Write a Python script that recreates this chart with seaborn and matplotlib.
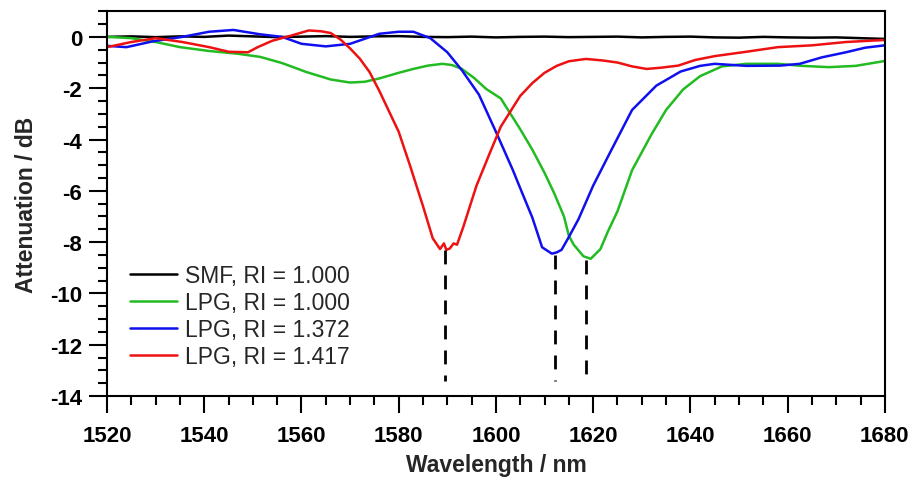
import matplotlib
matplotlib.use("Agg")
import matplotlib.pyplot as plt
import numpy as np
import pandas as pd
import seaborn as sns
from matplotlib.ticker import MultipleLocator

# --- data ---
labels = ["SMF, RI = 1.000", "LPG, RI = 1.000", "LPG, RI = 1.372", "LPG, RI = 1.417"]
colors = ["#000000", "#22bb22", "#1010ee", "#ee1111"]

wl_smf = [1520, 1525, 1530, 1535, 1540, 1545, 1550, 1555, 1560, 1565, 1570, 1575,
          1580, 1585, 1590, 1595, 1600, 1605, 1610, 1615, 1620, 1625, 1630, 1635,
          1640, 1645, 1650, 1655, 1660, 1665, 1670, 1675, 1680]
att_smf = [0.0, 0.02, -0.01, 0.02, 0.0, 0.05, 0.02, -0.01, 0.01, 0.03, 0.0, 0.02,
           0.03, 0.0, -0.01, 0.01, -0.02, 0.0, 0.01, -0.01, 0.0, 0.01, -0.02, 0.0,
           0.01, -0.02, -0.03, 0.0, -0.02, -0.03, -0.02, -0.05, -0.08]

wl_lpg = [1520, 1525, 1530, 1535, 1541, 1547, 1551.5, 1556, 1561, 1566, 1570, 1573,
          1576, 1580, 1583, 1586, 1589, 1591, 1593, 1595.5, 1598, 1601, 1603, 1605,
          1607.5, 1610, 1612, 1614, 1615, 1616, 1618, 1619.5, 1621.5, 1623, 1625, 1628,
          1632, 1635, 1638.5, 1642, 1646.5, 1651.5, 1658, 1663, 1668.5, 1674, 1680]
att_lpg = [0.0, -0.05, -0.2, -0.4, -0.55, -0.66, -0.78, -1.02, -1.37, -1.66, -1.78, -1.75,
           -1.62, -1.4, -1.25, -1.12, -1.05, -1.1, -1.25, -1.6, -2.03, -2.4, -3.0, -3.6,
           -4.4, -5.3, -6.1, -7.0, -7.75, -8.1, -8.55, -8.65, -8.27, -7.6, -6.8, -5.2,
           -3.8, -2.85, -2.05, -1.53, -1.15, -1.05, -1.05, -1.13, -1.18, -1.13, -0.94]

wl_1372 = [1520, 1524, 1529.5, 1535.5, 1541, 1546, 1551.5, 1556, 1560, 1565, 1570, 1576,
           1580, 1583, 1586.5, 1590, 1593, 1596.5, 1600, 1603.5, 1605, 1607.5, 1609.5,
           1611.5, 1612.5, 1613.5, 1615, 1617, 1620, 1623.5, 1628, 1633, 1638, 1642,
           1645, 1651.5, 1658.5, 1662.5, 1667, 1672, 1676, 1680]
att_1372 = [-0.35, -0.4, -0.17, 0.0, 0.2, 0.27, 0.1, 0.0, -0.27, -0.37, -0.27, 0.12,
            0.2, 0.2, -0.05, -0.6, -1.3, -2.25, -3.7, -5.2, -5.9, -7.05, -8.2,
            -8.45, -8.4, -8.3, -7.8, -7.1, -5.8, -4.5, -2.85, -1.9, -1.35, -1.13,
            -1.05, -1.13, -1.12, -1.05, -0.8, -0.6, -0.42, -0.33]

wl_1417 = [1520, 1525, 1530, 1535.5, 1541, 1545, 1549, 1551, 1554, 1557.5, 1561.5, 1564,
           1566, 1568, 1570, 1572, 1574, 1576, 1578, 1580, 1582.3, 1585, 1587, 1588.5,
           1589.3, 1589.8, 1590.5, 1591.3, 1592, 1593.3, 1596, 1598.8, 1601, 1603.5,
           1605, 1607.5, 1610, 1612.5, 1615, 1618.5, 1622, 1625, 1628, 1631, 1634,
           1637.5, 1641, 1645, 1651.5, 1658, 1665, 1672, 1680]
att_1417 = [-0.4, -0.2, -0.05, -0.2, -0.4, -0.58, -0.6, -0.4, -0.15, 0.03, 0.25, 0.22,
            0.15, -0.1, -0.45, -0.85, -1.37, -2.1, -2.9, -3.7, -5.0, -6.6, -7.85, -8.27,
            -8.05, -8.3, -8.25, -8.05, -8.1, -7.4, -5.8, -4.5, -3.5, -2.75,
            -2.3, -1.8, -1.4, -1.13, -0.95, -0.86, -0.92, -1.0, -1.15, -1.25, -1.2,
            -1.12, -0.9, -0.75, -0.58, -0.4, -0.33, -0.2, -0.12]

# resonance dips marked with dashed drop lines
dip_wl = [1589.5, 1612.2, 1618.5]
dip_att = [-8.3, -8.5, -8.7]
drop_to = -13.4

series = [(wl_smf, att_smf), (wl_lpg, att_lpg), (wl_1372, att_1372), (wl_1417, att_1417)]

sns.set_style("ticks")
plt.rcParams["font.family"] = ["Liberation Sans", "DejaVu Sans"]
plt.rcParams["axes.unicode_minus"] = False

fig, ax = plt.subplots(figsize=(9.15, 4.89), dpi=100)
fig.subplots_adjust(left=0.117, right=0.967, top=0.975, bottom=0.188)

for (wl, att), lab, col in zip(series, labels, colors):
    df = pd.DataFrame({"wavelength": wl, "attenuation": att})
    sns.lineplot(data=df, x="wavelength", y="attenuation", color=col, lw=1.8,
                 label=lab, estimator=None, sort=False, ax=ax)

ax.vlines(dip_wl, dip_att, drop_to, colors="black", lw=2,
          linestyles=(0, (5, 4)))

ax.set_xlim(1520, 1680)
ax.set_ylim(-14, 1)
ax.xaxis.set_major_locator(MultipleLocator(20))
ax.xaxis.set_minor_locator(MultipleLocator(5))
ax.yaxis.set_major_locator(MultipleLocator(2))
ax.yaxis.set_minor_locator(MultipleLocator(0.5))

ax.tick_params(which="both", direction="out", width=1.5, top=False, right=False,
               colors="black")
ax.tick_params(axis="x", which="major", length=12.5, pad=8, labelsize=16)
ax.tick_params(axis="y", which="major", length=13, pad=5, labelsize=16)
ax.tick_params(which="minor", length=6.5)
for lbl in ax.get_xticklabels() + ax.get_yticklabels():
    lbl.set_fontweight("bold")

for sp in ax.spines.values():
    sp.set_linewidth(1.5)
    sp.set_color("black")

ax.set_xlabel("Wavelength / nm", fontsize=16.5, fontweight="bold")
ax.set_ylabel("Attenuation / dB", fontsize=16.5, fontweight="bold")
ax.xaxis.set_label_coords(0.5, -0.148)
ax.yaxis.set_label_coords(-0.089, 0.5)

ax.legend(loc="upper left", bbox_to_anchor=(0.03, 0.342), frameon=False,
          fontsize=16.5, handlelength=2.05, handletextpad=0.35, labelspacing=0.17,
          borderpad=0, borderaxespad=0)

fig.savefig("out.png", dpi=100)
